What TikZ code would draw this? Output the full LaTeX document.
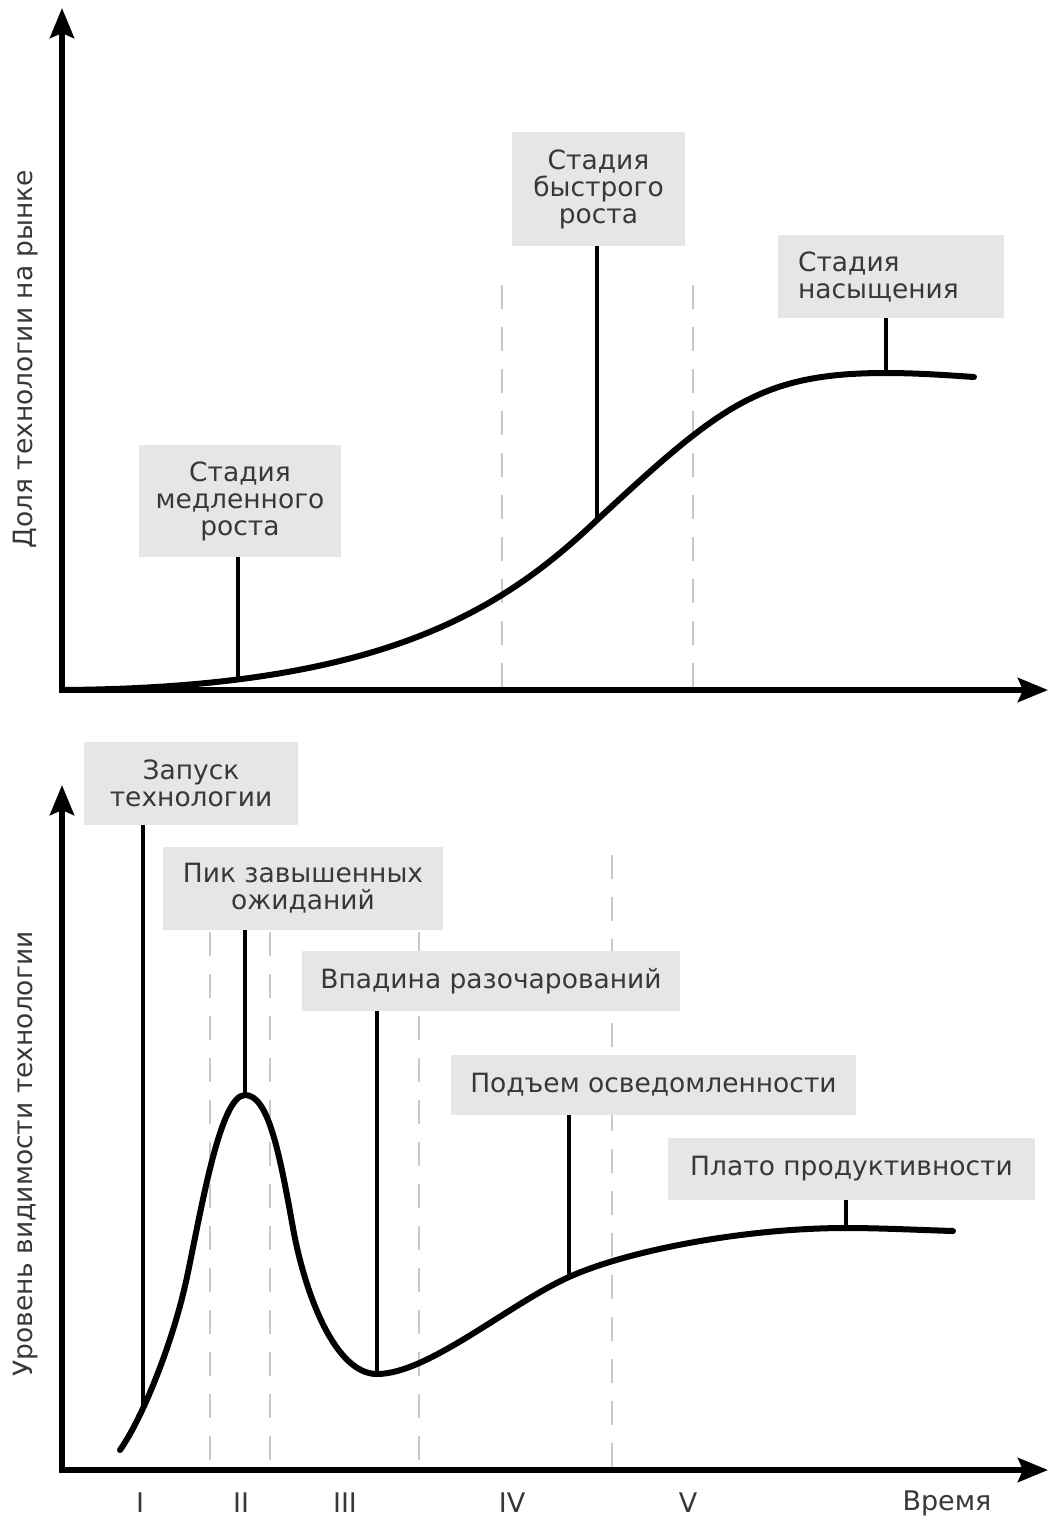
\documentclass[tikz,border=0pt]{standalone}
\usepackage{fontspec}
\setmainfont{DejaVu Sans}
\usetikzlibrary{arrows.meta}
\definecolor{txt}{HTML}{383838}
\definecolor{boxfill}{HTML}{E6E6E6}
\definecolor{dashc}{HTML}{C8C8C8}
\begin{document}
\begin{tikzpicture}[x=1pt,y=-1pt,
  axis/.style={line width=6pt, -{Stealth[length=30pt,width=24pt,inset=5pt]}},
  curve/.style={line width=6pt, line cap=round, line join=round},
  stem/.style={line width=3.5pt},
  guide/.style={draw=dashc, line width=1.5pt, dash pattern=on 24pt off 18pt},
  lbl/.style={fill=boxfill, text=txt, font=\fontsize{26.5}{27}\selectfont, align=center, inner sep=0pt},
  axlbl/.style={text=txt, font=\fontsize{26.5}{28}\selectfont, rotate=90},
  tick/.style={text=txt, font=\fontsize{27}{28}\selectfont}]
\useasboundingbox (0,0) rectangle (1051,1522);
\fill[white] (0,0) rectangle (1051,1522);

% ---------- top chart ----------
\draw[guide] (502,285) -- (502,690);
\draw[guide] (693,285) -- (693,690);

\coordinate (cslow) at (238,677);
\coordinate (cfast) at (597,520);
\coordinate (csat) at (886,373);
\draw[curve] (62,690) .. controls (380,688) and (500,612) .. (cfast)
  .. controls (720,406) and (760,373) .. (csat)
  .. controls (915,373) and (945,375) .. (974,377);

\node[lbl, minimum width=202pt, minimum height=112pt] (slow) at (240,501) {Стадия\\медленного\\роста};
\node[lbl, minimum width=173pt, minimum height=114pt] (fast) at (598.5,189) {Стадия\\быстрого\\роста};
\node[lbl, align=left, text width=186pt, inner xsep=20pt, minimum height=83pt] (sat) at (891,276.5) {Стадия\\насыщения};

\draw[stem] (slow.south -| cslow) -- (cslow);
\draw[stem] (fast.south -| cfast) -- (cfast);
\draw[stem] (sat.south -| csat) -- (csat);

\draw[axis] (62,693) -- (62,8);
\draw[axis] (59,690) -- (1048,690);
\node[axlbl] (ylab1) at (26,359) {Доля технологии на рынке};

% ---------- bottom chart ----------
\draw[guide] (210,932) -- (210,1470);
\draw[guide] (270,932) -- (270,1470);
\draw[guide] (419,932) -- (419,1470);
\draw[guide] (612,855) -- (612,1470);

\coordinate (claunch) at (143,1412);
\coordinate (cpeak) at (245,1095);
\coordinate (ctrough) at (377,1374);
\coordinate (crise) at (569,1277);
\coordinate (cplat) at (846,1228);
\draw[curve] (120,1450) .. controls (142,1419) and (173,1343) .. (187,1277)
  .. controls (201,1211) and (220,1095) .. (cpeak)
  .. controls (268,1095) and (279,1150) .. (293,1228)
  .. controls (305,1294) and (335,1374) .. (ctrough)
  .. controls (428,1374) and (509,1304) .. (crise)
  .. controls (629,1250) and (746,1228) .. (cplat)
  .. controls (880,1228) and (920,1230) .. (953,1231);

\node[lbl, minimum width=214pt, minimum height=83pt] (launch) at (191,783.5) {Запуск\\технологии};
\node[lbl, minimum width=280pt, minimum height=83pt] (peak) at (303,888.5) {Пик завышенных\\ожиданий};
\node[lbl, minimum width=378pt, minimum height=60pt] (trough) at (491,981) {Впадина разочарований};
\node[lbl, minimum width=405pt, minimum height=60pt] (rise) at (653.5,1085) {Подъем осведомленности};
\node[lbl, minimum width=367pt, minimum height=62pt] (plat) at (851.5,1169) {Плато продуктивности};

\draw[stem] (launch.south -| claunch) -- (claunch);
\draw[stem] (peak.south -| cpeak) -- (cpeak);
\draw[stem] (trough.south -| ctrough) -- (ctrough);
\draw[stem] (rise.south -| crise) -- (crise);
\draw[stem] (plat.south -| cplat) -- (cplat);

\draw[axis] (62,1473) -- (62,785);
\draw[axis] (59,1470) -- (1048,1470);
\node[axlbl] (ylab2) at (26,1154) {Уровень видимости технологии};

\node[tick] (t1) at (140,1503) {I};
\node[tick] (t2) at (241,1503) {II};
\node[tick] (t3) at (345,1503) {III};
\node[tick] (t4) at (512,1503) {IV};
\node[tick] (t5) at (688,1503) {V};
\node[tick] (t6) at (947,1503) {Время};
\end{tikzpicture}
\end{document}
